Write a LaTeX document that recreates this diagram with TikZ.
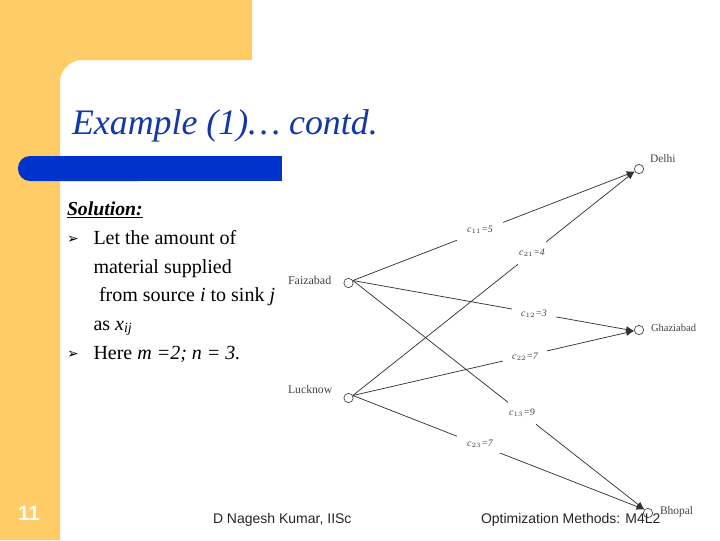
\documentclass[tikz,border=0pt]{standalone}
\usepackage{fontspec}
\setmainfont{Liberation Serif}
\setsansfont{Liberation Sans}
\newfontfamily\dingfont{DejaVu Sans}
\usetikzlibrary{arrows.meta}
\definecolor{slideorange}{HTML}{FFCC66}
\definecolor{slideblue}{HTML}{0033CC}
\definecolor{titleblue}{HTML}{1238A8}
\definecolor{soft}{HTML}{444444}
\tikzset{
  txt/.style={anchor=base west,inner sep=0pt,outer sep=0pt},
  body/.style={txt,font=\fontsize{15}{17}\selectfont,text=black},
  foot/.style={txt,font=\sffamily\fontsize{10.5}{12}\selectfont,text=black!85},
  place/.style={circle,draw=soft,line width=.5pt,fill=white,minimum size=7pt,inner sep=0pt},
  placelabel/.style={txt,font=\fontsize{8.6}{10}\selectfont,text=soft},
  link/.style={draw=black!80,line width=.55pt},
  flow/.style={link,-{Latex[length=6pt,width=5pt]}},
  cost/.style={fill=white,inner sep=0pt,font=\itshape\fontsize{7.4}{9}\selectfont,text=soft}
}
\begin{document}
\begin{tikzpicture}[x=.75pt,y=-.75pt]
\useasboundingbox (0,0) rectangle (720,540);
\fill[white] (0,0) rectangle (720,540);
\fill[slideorange] (0,0) -- (252,0) -- (252,60) -- (82,60) .. controls (70,60) and (60,70) .. (60,82) -- (60,540) -- (0,540) -- cycle;
\fill[slideblue,rounded corners=9pt] (150,156) -- (18,156) -- (18,181) -- (150,181) -- cycle;
\fill[slideblue] (100,156) rectangle (282,181);
\node[txt,text=titleblue,font=\itshape\fontsize{26.9}{30}\selectfont] (title) at (72,134) {Example (1)\ldots\ contd.};
\node[body,font=\bfseries\itshape\fontsize{14.8}{17}\selectfont] (sol) at (67,215) {\underline{Solution:}};
\node[body,font=\dingfont\fontsize{10.5}{12}\selectfont] (b1) at (67,243) {➢};
\node[body] (l1) at (93.5,244) {Let the amount of};
\node[body] (l2) at (93.5,273) {material supplied};
\node[body] (l3) at (99,301) {from source \textit{i} to sink \textit{j}};
\node[body] (l4) at (93.5,330) {as \textit{x}\textsubscript{\textit{ij}}};
\node[body,font=\dingfont\fontsize{10.5}{12}\selectfont] (b2) at (67,358) {➢};
\node[body] (l5) at (93.5,359) {Here \textit{m =2; n = 3.}};
\node[place] (fa) at (348.5,283) {};
\node[place] (lu) at (348.5,398) {};
\node[place] (de) at (639,169) {};
\node[place] (gh) at (639,330) {};
\node[place] (bh) at (648,513) {};
\node[placelabel,font=\fontsize{9}{10}\selectfont] (fal) at (288,284) {Faizabad};
\node[placelabel,font=\fontsize{8.8}{10}\selectfont] (lul) at (288,393) {Lucknow};
\node[placelabel] (del) at (650,162) {Delhi};
\node[placelabel,font=\fontsize{7.9}{10}\selectfont] (ghl) at (651,331) {Ghaziabad};
\node[placelabel] (bhl) at (660,514) {Bhopal};
\draw[flow] (fa.30) -- (de.210);
\draw[flow] (lu.30) -- (de.210);
\draw[flow] (fa.30) -- (gh.190);
\draw[flow] (lu.30) -- (gh.190);
\draw[flow] (fa.30) -- (bh.135);
\draw[flow] (lu.30) -- (bh.135);
\node[cost,minimum width=35pt,minimum height=18pt] (c11) at (480,230) {$\mathit{c}_{11}$=5};
\node[cost,minimum width=21pt,minimum height=20pt] (c21) at (532,253) {$\mathit{c}_{21}$=4};
\node[cost,minimum width=33pt,minimum height=12pt] (c12) at (534,314) {$\mathit{c}_{12}$=3};
\node[cost,minimum width=33pt,minimum height=12pt] (c22) at (525,357) {$\mathit{c}_{22}$=7};
\node[cost,minimum width=21pt,minimum height=18pt] (c13) at (522,413) {$\mathit{c}_{13}$=9};
\node[cost,minimum width=35pt,minimum height=14pt] (c23) at (480,444) {$\mathit{c}_{23}$=7};
\node[txt,font=\sffamily\bfseries\fontsize{15.5}{18}\selectfont,text=white] (num) at (18,520) {11};
\node[foot] (f1) at (213,523) {D Nagesh Kumar, IISc};
\node[foot] (f2) at (481,523) {Optimization Methods: M4L2};
\end{tikzpicture}
\end{document}
